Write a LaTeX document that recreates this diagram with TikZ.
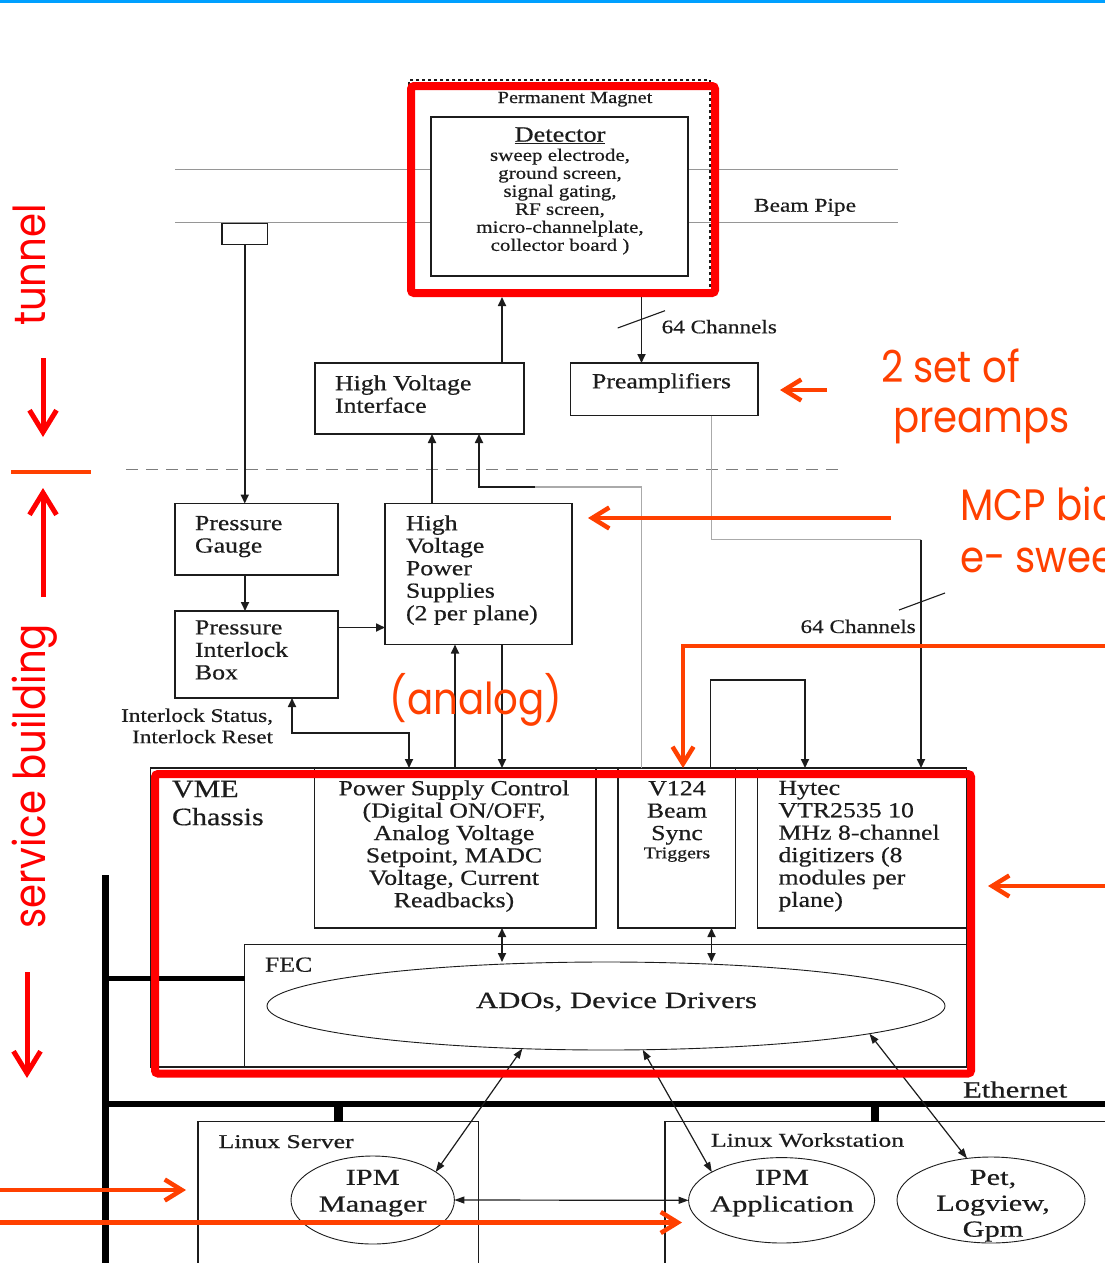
\documentclass[tikz,border=0pt]{standalone}
\usepackage{fontspec}
\setmainfont{Liberation Serif}[FakeStretch=1.2,FakeBold=0.5]
\newfontfamily\wideserif{Liberation Serif}[FakeStretch=1.32,FakeBold=0.5]
\newfontfamily\handfont{Poppins}[FakeStretch=0.88]
\usetikzlibrary{arrows.meta,shapes.geometric}
\definecolor{annred}{RGB}{255,0,0}
\definecolor{annorange}{RGB}{255,64,0}
\definecolor{topblue}{RGB}{0,160,255}
\definecolor{ink}{RGB}{28,28,28}
\definecolor{wiregray}{RGB}{170,170,170}
\definecolor{pipegray}{RGB}{150,150,150}
\definecolor{dashgray}{RGB}{125,125,125}
\newcommand\setfs[2]{\fontsize{#1}{#2}\selectfont}
\tikzset{
  box/.style={draw=ink, line width=1.4pt, inner sep=0pt, outer sep=0pt, anchor=north west, fill=white},
  magbox/.style={draw=ink, line width=1.2pt, dashed, inner sep=0pt, outer sep=0pt, anchor=north west},
  oval/.style={ellipse, draw=ink, line width=0.9pt, inner sep=0pt, outer sep=0pt},
  txt/.style={inner sep=0pt, outer sep=0pt, text=ink, font=\setfs{21.5}{22.5}},
  arr/.style={draw=ink, line width=1.7pt, -{Triangle[length=9pt,width=8pt]}},
  darr/.style={draw=ink, line width=1.7pt, {Triangle[length=9pt,width=8pt]}-{Triangle[length=9pt,width=8pt]}},
  thinarr/.style={draw=ink, line width=1.2pt, {Triangle[length=10pt,width=7pt]}-{Triangle[length=10pt,width=7pt]}},
  tick/.style={draw=ink, line width=1.1pt},
  graywire/.style={draw=wiregray, line width=1.8pt},
  bus/.style={draw=black, line width=7pt},
  pipe/.style={draw=pipegray, line width=1.5pt},
  redframe/.style={draw=annred, line width=8pt, rounded corners=3pt, inner sep=0pt, outer sep=4pt, anchor=center},
  redarr/.style={draw=annred, line width=5pt, -{Straight Barb[length=22pt,width=27pt]}},
  orarr/.style={draw=annorange, line width=4.5pt, -{Straight Barb[length=17pt,width=21pt]}},
  handtxt/.style={inner sep=0pt, outer sep=0pt, font=\handfont\setfs{44}{50}},
}
\begin{document}
\begin{tikzpicture}[x=1pt,y=-1pt]
\useasboundingbox (0,0) rectangle (1105,1263);
\clip (0,0) rectangle (1105,1263);
\fill[white] (0,0) rectangle (1105,1263);
\fill[topblue] (0,0) rectangle (1105,3.5);

% helper coordinates
\coordinate (x245) at (245,0);
\coordinate (x292) at (292,0);
\coordinate (x338) at (338,0);
\coordinate (x409) at (409,0);
\coordinate (x432) at (432,0);
\coordinate (x455) at (455,0);
\coordinate (x479) at (479,0);
\coordinate (x502) at (502,0);
\coordinate (x535) at (535,0);
\coordinate (x641) at (641.5,0);
\coordinate (x683) at (683,0);
\coordinate (x710) at (710.5,0);
\coordinate (x712) at (711.5,0);
\coordinate (x805) at (805,0);
\coordinate (x875) at (875,0);
\coordinate (x921) at (921,0);
\coordinate (y487) at (0,487);
\coordinate (y540) at (0,539.5);
\coordinate (y628) at (0,627.5);
\coordinate (y680) at (0,680);
\coordinate (y733) at (0,733);

% beam pipe
\coordinate (pipeL1) at (175,169.5);
\coordinate (pipeR1) at (898,169.5);
\coordinate (pipeL2) at (175,222.5);
\coordinate (pipeR2) at (898,222.5);
\draw[pipe] (pipeL1) -- (pipeR1);
\draw[pipe] (pipeL2) -- (pipeR2);

% magnet and detector
\node[magbox, minimum width=301, minimum height=212] (magnet) at (409,80) {};
\node[txt, font=\setfs{17}{18}, anchor=base] (magtext) at (575,103) {Permanent Magnet};
\node[box, minimum width=257, minimum height=159] (det) at (431,117) {};
\node[txt, font=\setfs{22}{22}, anchor=base] (dettitle) at (560,141.7) {\underline{Detector}};
\node[txt, font=\setfs{17.5}{18}, align=center, anchor=north] (detlist) at (560,148.7)
  {sweep electrode,\\ground screen,\\signal gating,\\RF screen,\\micro-channelplate,\\collector board )};
\node[txt, font=\setfs{19.5}{20}, anchor=base west] (beampipe) at (754,211.7) {Beam Pipe};
\node[box, minimum width=45.5, minimum height=21] (pipebox) at (222,223.5) {};

% upper boxes
\node[box, minimum width=209, minimum height=71] (hvi) at (315,363) {};
\node[txt, align=left, anchor=north west] (hvitext) at (335,375.3) {High Voltage\\Interface};
\node[box, minimum width=187.5, minimum height=52.5] (pre) at (570.5,363) {};
\node[txt, anchor=base] (pretext) at (661.5,388.3) {Preamplifiers};
\node[txt, font=\setfs{19.3}{20}, anchor=base west] (ch1) at (661.7,333.3) {64 Channels};

\node[box, minimum width=163, minimum height=71.5] (pg) at (175,503.5) {};
\node[txt, align=left, anchor=north west] (pgtext) at (195,516) {Pressure\\Gauge};
\node[box, minimum width=163, minimum height=87] (pib) at (175,611) {};
\node[txt, align=left, anchor=north west] (pibtext) at (195,620.3) {Pressure\\Interlock\\Box};
\node[box, minimum width=187, minimum height=141] (hvps) at (385,503.5) {};
\node[txt, align=left, anchor=north west] (hvpstext) at (406,515.3) {High\\Voltage\\Power\\Supplies\\(2 per plane)};
\node[txt, font=\setfs{19.3}{21.3}, align=right, anchor=north east] (ilock) at (273,708.5) {Interlock Status,\\Interlock Reset};
\node[txt, font=\setfs{19.3}{20}, anchor=base west] (ch2) at (800.6,633) {64 Channels};

% separator
\coordinate (sepL) at (126,469.3);
\coordinate (sepR) at (840,469.3);
\draw[draw=dashgray, line width=1.3pt, dash pattern=on 12pt off 8pt] (sepL) -- (sepR);

% VME chassis
\node[box, minimum width=816, minimum height=299] (vme) at (150.5,768) {};
\node[txt, font=\setfs{25}{28}, align=left, anchor=north west] (vmetext) at (172,780.8) {VME\\Chassis};
\node[box, minimum width=281.5, minimum height=160] (psc) at (314.5,768) {};
\node[txt, font=\setfs{21.5}{22.4}, align=center, anchor=north] (psctext) at (454,780.3)
  {Power Supply Control\\(Digital ON/OFF,\\Analog Voltage\\Setpoint, MADC\\Voltage, Current\\Readbacks)};
\node[box, minimum width=117.5, minimum height=160] (v124) at (618,768) {};
\node[txt, font=\setfs{21.5}{22.4}, align=center, anchor=north] (v124text) at (677,781) {V124\\Beam\\Sync};
\node[txt, font=\setfs{16.5}{17}, anchor=base] (trig) at (677,858.3) {Triggers};
\node[box, minimum width=209, minimum height=160] (hyt) at (757.5,768) {};
\node[txt, font=\setfs{21.5}{22.4}, align=left, anchor=north west] (hyttext) at (778.5,780.8)
  {Hytec\\VTR2535 10\\MHz 8-channel\\digitizers (8\\modules per\\plane)};
\node[box, minimum width=722, minimum height=122.5] (fec) at (244.5,944.5) {};
\node[txt, anchor=base west] (fectext) at (265,971.7) {FEC};
\node[oval, minimum width=678, minimum height=88] (ado) at (606,1006) {};
\node[txt, font=\wideserif\setfs{23.3}{24}, anchor=base] (adotext) at (616.5,1008) {ADOs, Device Drivers};

% Linux machines
\node[box, minimum width=280.5, minimum height=160] (ls) at (198,1121.5) {};
\node[txt, font=\wideserif\setfs{19.5}{20}, anchor=base west] (lstext) at (218.6,1148) {Linux Server};
\node[box, minimum width=460, minimum height=160] (lw) at (665,1121.5) {};
\node[txt, font=\wideserif\setfs{19.5}{20}, anchor=base west] (lwtext) at (711,1146.7) {Linux Workstation};
\node[oval, minimum width=163.4, minimum height=88] (ipmm) at (372.7,1200) {};
\node[txt, font=\wideserif\setfs{23}{26.7}, align=center, anchor=north] (ipmmtext) at (372.7,1169.8) {IPM\\Manager};
\node[oval, minimum width=186, minimum height=85.4] (ipma) at (781.6,1200.3) {};
\node[txt, font=\wideserif\setfs{23}{26.7}, align=center, anchor=north] (ipmatext) at (782,1169.8) {IPM\\Application};
\node[oval, minimum width=188, minimum height=86] (pet) at (991,1200) {};
\node[txt, font=\wideserif\setfs{23}{25.9}, align=center, anchor=north] (pettext) at (993,1169.8) {Pet,\\Logview,\\Gpm};
\node[txt, font=\wideserif\setfs{23.3}{24}, anchor=base west] (ethtext) at (963,1097.5) {Ethernet};

% Ethernet bus
\coordinate (busT) at (105.5,875);
\coordinate (busB) at (105.5,1270);
\coordinate (busF) at (105.5,978.5);
\coordinate (busE1) at (105.5,1103.5);
\coordinate (busE2) at (1110,1103.5);
\draw[bus] (busT) -- (busB);
\draw[bus, line width=6pt] (busE1) -- (busE2);
\draw[bus, line width=5.5pt] (busF) -- (fec.west |- busF);
\draw[bus, line width=9pt] (x338 |- busE1) -- (x338 |- ls.north);
\draw[bus, line width=8pt] (x875 |- busE1) -- (x875 |- lw.north);

% connectors
\draw[arr] (pipebox.south) -- (pipebox.south |- pg.north);
\draw[arr] (x245 |- pg.south) -- (x245 |- pib.north);
\draw[arr] (pib.east |- y628) -- (hvps.west |- y628);
\draw[arr] (x432 |- hvps.north) -- (x432 |- hvi.south);
\draw[graywire] (x641 |- vme.north) -- (x641 |- y487) -- (x535 |- y487);
\draw[arr] (x535 |- y487) -- (x479 |- y487) -- (x479 |- hvi.south);
\draw[graywire] (x712 |- pre.south) -- (x712 |- y540) -- (x921 |- y540);
\draw[arr] (x921 |- y540) -- (x921 |- hyt.north);
\coordinate (tick2a) at (899,610);
\coordinate (tick2b) at (945,593);
\draw[tick] (tick2a) -- (tick2b);
\draw[arr] (x455 |- psc.north) -- (x455 |- hvps.south);
\draw[arr] (x502 |- hvps.south) -- (x502 |- psc.north);
\draw[darr] (x292 |- pib.south) -- (x292 |- y733) -- (x409 |- y733) -- (x409 |- psc.north);
\draw[arr] (x710 |- v124.north) -- (x710 |- y680) -- (x805 |- y680) -- (x805 |- hyt.north);
\draw[darr] (x502 |- psc.south) -- (x502 |- ado.north);
\draw[darr] (x712 |- v124.south) -- (x712 |- ado.north);
\draw[thinarr] (ado.207) -- (ipmm.24);
\draw[thinarr] (ado.310) -- (ipma.158);
\draw[thinarr] (ado.354) -- (pet.120);
\draw[thinarr] (ipmm.east) -- (ipma.west);

% red frames
\node[redframe, minimum width=304, minimum height=207] (magred) at (563,189.5) {};
\node[redframe, minimum width=816, minimum height=299.5] (vmered) at (563,923.75) {};
\draw[arr] (x502 |- hvi.north) -- (x502 |- magred.south);
\draw[arr] (x641 |- magred.south) -- (x641 |- pre.north);
\coordinate (tick1a) at (617.7,328);
\coordinate (tick1b) at (665,310.7);
\draw[tick] (tick1a) -- (tick1b);

% red annotations
\node[handtxt, text=annred, rotate=90, anchor=base] (tunnel) at (45,265) {tunnel};
\node[handtxt, text=annred, rotate=90, anchor=base] (svc) at (45,776) {service building};
\node[handtxt, text=annorange, anchor=center] (analog) at (476,700) {(analog)};
\node[handtxt, text=annorange, anchor=base west] (setof) at (881,382) {2 set of};
\node[handtxt, text=annorange, anchor=base west] (preamps) at (893,432) {preamps};
\node[handtxt, text=annorange, anchor=base west] (mcp) at (960.6,520) {MCP bias};
\node[handtxt, text=annorange, anchor=base west] (sweep) at (960,572) {e- sweep};

\coordinate (tunA) at (43,358);
\coordinate (tunB) at (43,437);
\draw[redarr] (tunA) -- (tunB);
\coordinate (sepA) at (11,472);
\coordinate (sepB) at (91,472);
\draw[draw=annorange, line width=4.5pt] (sepA) -- (sepB);
\coordinate (svcA) at (43,597);
\coordinate (svcB) at (43,488);
\draw[redarr] (svcA) -- (svcB);
\coordinate (svcC) at (27,972);
\coordinate (svcD) at (27,1078);
\draw[redarr] (svcC) -- (svcD);
\coordinate (preA) at (827,390);
\coordinate (preB) at (780,390);
\draw[orarr] (preA) -- (preB);
\coordinate (hvA) at (891,518);
\coordinate (hvB) at (588,518);
\draw[orarr] (hvA) -- (hvB);
\coordinate (lA) at (1110,646);
\coordinate (lB) at (683,646);
\draw[orarr] (lA) -- (lB) -- (x683 |- vme.north);
\coordinate (hyA) at (1110,886);
\coordinate (hyB) at (988,886);
\draw[orarr] (hyA) -- (hyB);
\coordinate (lsA) at (-5,1190);
\coordinate (lsB) at (186,1190);
\draw[orarr] (lsA) -- (lsB);
\coordinate (lwA) at (-5,1222.5);
\coordinate (lwB) at (682,1222.5);
\draw[orarr] (lwA) -- (lwB);
\end{tikzpicture}
\end{document}
